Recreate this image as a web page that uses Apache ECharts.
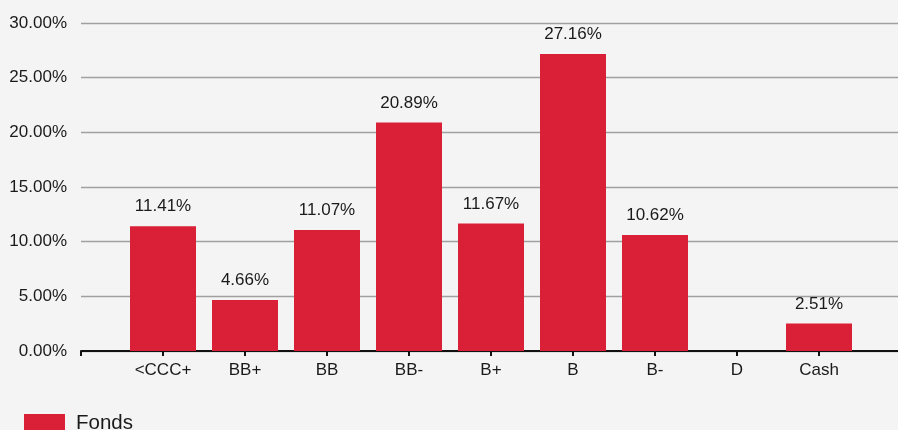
<!DOCTYPE html>
<html><head><meta charset="utf-8">
<script src="https://cdn.jsdelivr.net/npm/echarts@6/dist/echarts.min.js"></script>
<style>html,body{margin:0;padding:0;background:#f4f4f4;overflow:hidden;}#c{width:904px;height:430px;}</style>
</head><body><div id="c"></div>
<script>
const categories = ['', '<CCC+', 'BB+', 'BB', 'BB-', 'B+', 'B', 'B-', 'D', 'Cash', ''];
const fonds = [null, 11.41, 4.66, 11.07, 20.89, 11.67, 27.16, 10.62, null, 2.51, null];
const yTicks = [0, 5, 10, 15, 20, 25, 30];

const chart = echarts.init(document.getElementById('c'), null, {renderer: 'canvas'});
chart.setOption({
  backgroundColor: '#f4f4f4',
  animation: false,
  textStyle: {fontFamily: 'Liberation Sans, Arial, sans-serif'},
  grid: {left: 81, top: 23, height: 328, right: 0, containLabel: false},
  legend: {
    left: 24, top: 413, padding: 0, itemWidth: 41, itemHeight: 19, itemGap: 10,
    icon: 'rect',
    textStyle: {fontSize: 20.5, color: '#1a1a1a', padding: [0, 0, 0, 6], fontFamily: 'Liberation Sans, Arial, sans-serif'},
    data: ['Fonds']
  },
  xAxis: {
    type: 'category', data: categories, boundaryGap: false,
    axisLine: {lineStyle: {color: '#111', width: 2}},
    axisTick: {show: true, length: 5, lineStyle: {color: '#111', width: 2}},
    axisLabel: {fontSize: 17, color: '#1a1a1a', margin: 11, interval: 0},
    splitLine: {show: false}
  },
  yAxis: {
    type: 'value', min: yTicks[0], max: yTicks[yTicks.length - 1], interval: 5,
    axisLine: {show: false}, axisTick: {show: false},
    axisLabel: {fontSize: 17, color: '#1a1a1a', margin: 14, formatter: v => v.toFixed(2) + '%'},
    splitLine: {lineStyle: {color: '#a0a0a0', width: 1.3}}
  },
  series: [{
    name: 'Fonds', type: 'bar', data: fonds, barWidth: 66,
    itemStyle: {color: '#d92037'},
    label: {
      show: true, position: 'top', distance: 11, fontSize: 17, color: '#1a1a1a',
      formatter: p => p.value == null ? '' : p.value.toFixed(2) + '%'
    }
  }]
});
</script></body></html>
